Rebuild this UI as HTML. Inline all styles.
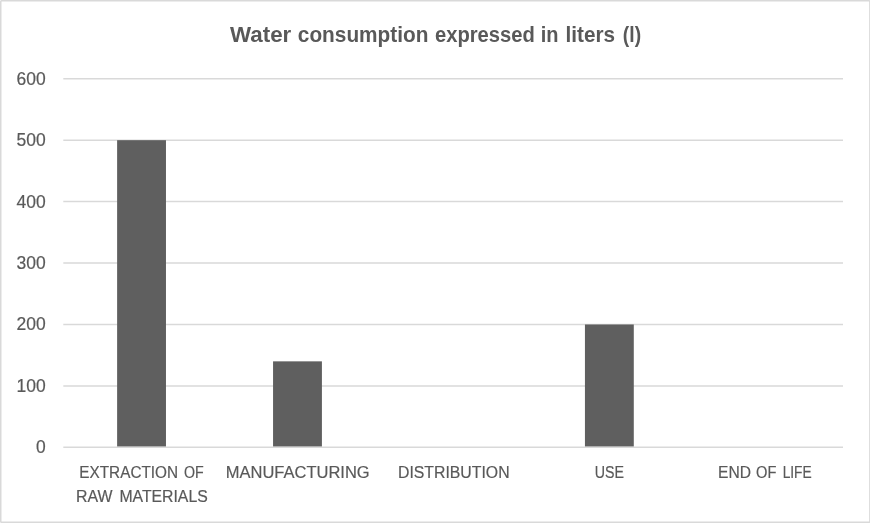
<!DOCTYPE html>
<html lang="en"><head><meta charset="utf-8"><title>Water consumption expressed in liters (l)</title>
<style>
html,body{margin:0;padding:0;background:#fff;}
body{width:870px;height:523px;overflow:hidden;}
svg{display:block;}
text{font-family:"Liberation Sans",sans-serif;fill:#595959;}
.t{font-weight:bold;font-size:21.8px;}
.a{font-size:17.9px;stroke:#595959;stroke-width:0.2px;}
.c{font-size:17.2px;stroke:#595959;stroke-width:0.2px;}
</style></head><body>
<svg width="870" height="523" viewBox="0 0 870 523">
<rect x="0" y="0" width="870" height="523" fill="#fff"/>
<rect x="0.75" y="0.75" width="869.15" height="521.5" rx="0.8" fill="none" stroke="#d9d9d9" stroke-width="1.5"/>

<line x1="63.3" y1="385.93" x2="843.0" y2="385.93" stroke="#d9d9d9" stroke-width="1.5"/>
<line x1="63.3" y1="324.49" x2="843.0" y2="324.49" stroke="#d9d9d9" stroke-width="1.5"/>
<line x1="63.3" y1="263.05" x2="843.0" y2="263.05" stroke="#d9d9d9" stroke-width="1.5"/>
<line x1="63.3" y1="201.61" x2="843.0" y2="201.61" stroke="#d9d9d9" stroke-width="1.5"/>
<line x1="63.3" y1="140.17" x2="843.0" y2="140.17" stroke="#d9d9d9" stroke-width="1.5"/>
<line x1="63.3" y1="78.73" x2="843.0" y2="78.73" stroke="#d9d9d9" stroke-width="1.5"/>
<rect x="117.12" y="140.17" width="48.85" height="306.60" fill="#5f5f5f"/>
<rect x="273.06" y="361.35" width="48.85" height="85.42" fill="#5f5f5f"/>
<rect x="584.94" y="324.49" width="48.85" height="122.28" fill="#5f5f5f"/>
<line x1="63.3" y1="447.37" x2="843.0" y2="447.37" stroke="#d9d9d9" stroke-width="1.5"/>
<text class="a" x="45.8" y="453.27" text-anchor="end" textLength="9.7" lengthAdjust="spacingAndGlyphs">0</text>
<text class="a" x="45.8" y="391.83" text-anchor="end" textLength="29.2" lengthAdjust="spacingAndGlyphs">100</text>
<text class="a" x="45.8" y="330.39" text-anchor="end" textLength="29.2" lengthAdjust="spacingAndGlyphs">200</text>
<text class="a" x="45.8" y="268.95" text-anchor="end" textLength="29.2" lengthAdjust="spacingAndGlyphs">300</text>
<text class="a" x="45.8" y="207.51" text-anchor="end" textLength="29.2" lengthAdjust="spacingAndGlyphs">400</text>
<text class="a" x="45.8" y="146.07" text-anchor="end" textLength="29.2" lengthAdjust="spacingAndGlyphs">500</text>
<text class="a" x="45.8" y="84.63" text-anchor="end" textLength="29.2" lengthAdjust="spacingAndGlyphs">600</text>
<text class="t"><tspan x="230.07" y="42.00" textLength="61.25" lengthAdjust="spacingAndGlyphs">Water</tspan> <tspan x="297.85" y="42.00" textLength="130.53" lengthAdjust="spacingAndGlyphs">consumption</tspan> <tspan x="434.99" y="42.00" textLength="99.88" lengthAdjust="spacingAndGlyphs">expressed</tspan> <tspan x="540.82" y="42.00" textLength="17.77" lengthAdjust="spacingAndGlyphs">in</tspan> <tspan x="565.53" y="42.00" textLength="49.51" lengthAdjust="spacingAndGlyphs">liters</tspan> <tspan x="622.83" y="42.00" textLength="18.25" lengthAdjust="spacingAndGlyphs">(l)</tspan></text>
<text class="c"><tspan x="79.29" y="478.00" textLength="98.80" lengthAdjust="spacingAndGlyphs">EXTRACTION</tspan> <tspan x="183.89" y="478.00" textLength="19.69" lengthAdjust="spacingAndGlyphs">OF</tspan> <tspan x="75.93" y="501.50" textLength="36.45" lengthAdjust="spacingAndGlyphs">RAW</tspan> <tspan x="119.39" y="501.50" textLength="88.36" lengthAdjust="spacingAndGlyphs">MATERIALS</tspan></text>
<text class="c"><tspan x="225.79" y="478.00" textLength="143.89" lengthAdjust="spacingAndGlyphs">MANUFACTURING</tspan></text>
<text class="c"><tspan x="397.98" y="478.00" textLength="111.60" lengthAdjust="spacingAndGlyphs">DISTRIBUTION</tspan></text>
<text class="c"><tspan x="594.71" y="478.00" textLength="29.25" lengthAdjust="spacingAndGlyphs">USE</tspan></text>
<text class="c"><tspan x="718.01" y="478.00" textLength="33.01" lengthAdjust="spacingAndGlyphs">END</tspan> <tspan x="756.04" y="478.00" textLength="20.33" lengthAdjust="spacingAndGlyphs">OF</tspan> <tspan x="782.63" y="478.00" textLength="29.07" lengthAdjust="spacingAndGlyphs">LIFE</tspan></text>
</svg></body></html>
